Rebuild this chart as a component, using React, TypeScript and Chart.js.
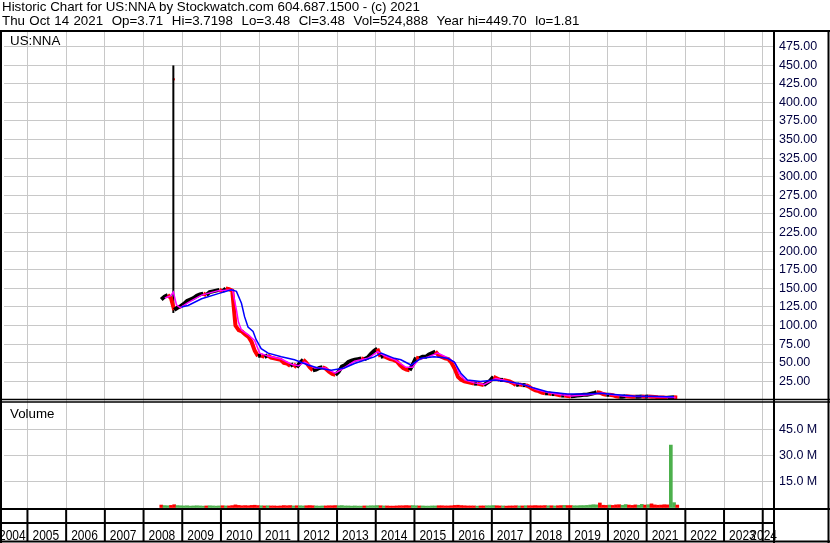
import React, { useEffect, useRef } from 'react';
import { Chart, registerables } from 'chart.js';

Chart.register(...registerables);

// ---------- text ----------
const TITLE_LINE = 'Historic Chart for US:NNA by Stockwatch.com 604.687.1500 - (c) 2021';
const QUOTE_LINE = 'Thu Oct 14 2021  Op=3.71  Hi=3.7198  Lo=3.48  Cl=3.48  Vol=524,888  Year hi=449.70  lo=1.81';
const SYMBOL_LABEL = 'US:NNA';
const VOLUME_LABEL = 'Volume';

// ---------- axes ----------
const yearLabels = ['2004', '2005', '2006', '2007', '2008', '2009', '2010', '2011', '2012', '2013', '2014', '2015', '2016', '2017', '2018', '2019', '2020', '2021', '2022', '2023', '2024'];
const priceTicks = [25, 50, 75, 100, 125, 150, 175, 200, 225, 250, 275, 300, 325, 350, 375, 400, 425, 450, 475];
const volumeTicks = [15000000, 30000000, 45000000];
const X_MIN = 2004.394;
const X_MAX = 2024.291;
const PRICE_MIN = 0;
const PRICE_MAX = 494.6;
const VOL_MIN = -870000;
const VOL_MAX = 62000000;

// ---------- data (monthly, first month = June 2008) ----------
const firstYear = 2008;
const firstMonth = 6;
const monthlyClose = [
  135, 139, 141, 137, 121, 124, 126,
  129, 133, 135, 137, 140, 142, 143, 141, 145, 146, 147, 148,
  146, 150, 149, 147, 100, 94, 92, 88, 85, 78, 66, 59,
  60, 58, 60, 57, 56, 55, 54, 50, 49, 46, 48, 44,
  50, 54, 50, 44, 40, 41, 43, 44, 42, 38, 35, 34,
  38, 45, 47, 51, 53, 54, 55, 56, 55, 57, 62, 66,
  69, 58, 59, 57, 55, 54, 52, 47, 43, 41, 40, 48,
  57, 56, 58, 58, 61, 63, 65, 60, 58, 56, 55, 50,
  42, 31, 27, 25, 24, 23, 22, 22, 21, 20, 23, 26,
  31, 29, 27, 27, 26, 25, 23, 20, 21, 20, 20, 18,
  15, 13, 12, 10, 9, 9, 8, 8, 7, 6, 6, 5.5,
  5, 5.5, 6, 6.5, 7, 7, 8, 9, 10.5, 9.8, 8, 7,
  7, 6.5, 5, 4.5, 4.5, 5, 4.8, 4.5, 4.4, 4.5, 4.6, 4.5,
  4.6, 4.5, 4.2, 3.8, 3.5, 3.2, 3.0, 3.3, 3.6, 3.5,
];
const monthlyVolumeM = [
  1.4, 1.1, 1.0, 1.2, 1.6, 1.1, 1.0,
  0.9, 1.0, 0.8, 0.9, 1.0, 0.9, 0.8, 0.9, 1.0, 0.9, 0.8, 0.9,
  1.0, 0.9, 0.9, 1.1, 1.5, 1.2, 1.0, 1.1, 1.0, 1.2, 1.3, 1.1,
  1.0, 0.9, 1.0, 0.9, 0.9, 0.8, 0.9, 1.1, 1.0, 1.1, 0.9, 1.0,
  1.0, 0.9, 1.0, 1.1, 1.0, 0.9, 0.8, 0.9, 0.9, 1.0, 1.0, 1.1,
  1.0, 1.1, 0.9, 0.9, 0.8, 0.9, 0.8, 0.8, 0.9, 0.9, 1.0, 1.0,
  1.1, 1.0, 0.9, 0.9, 0.8, 0.8, 0.9, 1.0, 1.0, 1.1, 1.0, 1.1,
  1.0, 0.9, 0.9, 0.8, 0.8, 0.9, 0.9, 1.0, 1.0, 0.9, 0.9, 1.0,
  1.2, 1.3, 1.1, 1.0, 0.9, 0.9, 0.9, 0.8, 0.9, 0.9, 1.0, 1.0,
  1.1, 1.0, 0.9, 0.9, 0.8, 0.9, 0.9, 1.0, 0.9, 0.9, 1.0, 1.0,
  1.0, 1.1, 1.0, 1.0, 1.1, 1.0, 1.0, 0.9, 1.0, 1.1, 1.2, 1.1,
  1.1, 1.0, 1.0, 1.1, 1.1, 1.2, 1.4, 1.6, 1.5, 2.6, 1.3, 1.2,
  1.4, 1.2, 1.5, 1.6, 1.3, 1.7, 1.4, 1.2, 1.5, 1.3, 1.8, 1.4,
  1.6, 2.1, 1.5, 1.3, 1.4, 1.6, 1.5, 36.0, 2.8, 1.4,
];

// the Oct 2008 spike bar
const spikeYear = 2008.77;
const spikeLow = 117;
const spikeHigh = 449.7;
const spikeCloseTick = 431;

// short moving average (magenta)
const pinkYears = [2008.55, 2008.70, 2008.77, 2008.85, 2008.95, 2009.15, 2009.50, 2009.93, 2010.30, 2010.40, 2010.45, 2010.53, 2010.70, 2010.87, 2011.00, 2011.22, 2011.56, 2011.82, 2012.00, 2012.16, 2012.42, 2012.70, 2012.95, 2013.15, 2013.45, 2013.80, 2014.05, 2014.20, 2014.50, 2014.78, 2014.95, 2015.10, 2015.35, 2015.60, 2015.85, 2016.05, 2016.15, 2016.30, 2016.55, 2016.80, 2017.00, 2017.10, 2017.30, 2017.60, 2017.90, 2018.15, 2018.45, 2018.80, 2019.05, 2019.50, 2019.85, 2020.10, 2020.45, 2020.80, 2021.20, 2021.55, 2021.75];
const pinkValues = [137, 140, 145, 128, 124, 131, 141, 147, 148, 121, 105, 94, 88, 80, 63, 59, 55, 48, 46, 51, 43, 43, 36, 42, 52, 56, 65, 60, 54, 44, 44, 54, 58, 63, 57, 50, 36, 27, 23, 21, 26, 29, 27, 22, 20, 14, 10, 7, 5.5, 7, 9.5, 7, 5, 4.6, 4.5, 3.3, 3.5];

// long moving average (blue)
const blueYears = [2008.98, 2009.15, 2009.50, 2009.93, 2010.27, 2010.40, 2010.53, 2010.61, 2010.70, 2010.83, 2010.91, 2011.04, 2011.22, 2011.56, 2011.90, 2012.25, 2012.51, 2012.85, 2013.19, 2013.45, 2013.96, 2014.14, 2014.48, 2014.65, 2014.91, 2015.17, 2015.51, 2015.86, 2016.03, 2016.20, 2016.37, 2016.71, 2017.06, 2017.40, 2017.74, 2018.09, 2018.43, 2018.95, 2019.46, 2019.81, 2020.24, 2020.66, 2021.10, 2021.53, 2021.70];
const blueValues = [125, 127, 136, 143, 148, 146, 130, 112, 98, 92, 81, 69, 63, 58, 54, 47, 43, 40, 43, 49, 58, 63, 56, 54, 47, 56, 58, 56, 51, 36, 27, 25, 27, 25, 22, 16, 11, 8, 8, 9, 7, 5.4, 5, 4.5, 4.5];

// ---------- styles ----------
const FONT = '"Liberation Sans", Arial, sans-serif';
const GRID = '#c8c8c8';
const AXIS_TEXT = '#000040';
const UP_PRICE = '#000000';
const DOWN_PRICE = '#ff0000';
const UP_VOL = '#4cb04c';
const DOWN_VOL = '#ff0000';

const monthX = (i: number) => firstYear + (firstMonth - 1 + i + 0.5) / 12;

const framePlugin = {
  id: 'stockFrame',
  afterDraw(chart: any) {
    const { ctx, chartArea, scales } = chart;
    const xs = scales.x;
    const yP = scales.y;
    const W = chart.width;
    const H = chart.height;
    const R = chartArea.right;
    const T = chartArea.top;
    const B = chartArea.bottom;
    ctx.save();
    ctx.strokeStyle = '#000';
    const hline = (y: number, x0: number, x1: number, w: number) => {
      ctx.lineWidth = w;
      ctx.beginPath();
      ctx.moveTo(x0, y);
      ctx.lineTo(x1, y);
      ctx.stroke();
    };
    const vline = (x: number, y0: number, y1: number, w: number) => {
      ctx.lineWidth = w;
      ctx.beginPath();
      ctx.moveTo(x, y0);
      ctx.lineTo(x, y1);
      ctx.stroke();
    };
    hline(T - 1, 0, W, 2);
    hline(yP.bottom - 0.5, 0, W, 1.5);
    hline(yP.bottom + 2, 0, W, 1.5);
    hline(B, 0, W, 2);
    hline(B + 14, 0, R + 1, 2);
    hline(H - 1.5, 0, W, 2);
    vline(1, T - 2, H, 2);
    vline(W - 1.5, T - 2, H, 2);
    vline(R, T - 2, H, 2);
    for (let i = 1; i < yearLabels.length; i++) {
      const px = xs.getPixelForValue(Number(yearLabels[i]));
      vline(px, B, H - 1.5, 2);
    }
    ctx.fillStyle = '#000';
    ctx.font = '15px ' + FONT;
    ctx.textBaseline = 'alphabetic';
    ctx.textAlign = 'left';
    const sx = 0.8;
    for (const lab of yearLabels) {
      const w = ctx.measureText(lab).width * sx;
      const c = xs.getPixelForValue(Number(lab) + 0.5) - 1;
      const left = Math.max(-1, Math.min(c - w / 2, R + 3 - w));
      ctx.save();
      ctx.translate(left, H - 3);
      ctx.scale(sx, 1);
      ctx.fillText(lab, 0, 0);
      ctx.restore();
    }
    ctx.restore();
  },
};

export default function App() {
  const canvasRef = useRef<HTMLCanvasElement | null>(null);

  useEffect(() => {
    document.body.style.margin = '0';
    const canvas = canvasRef.current;
    if (!canvas) return;

    const priceData = monthlyClose.map((c, i) => ({ x: monthX(i), y: c }));
    const volData = monthlyVolumeM.map((v, i) => ({ x: monthX(i), y: v * 1000000 }));
    const volColors = monthlyClose.map((c, i) => (i > 0 && c >= monthlyClose[i - 1] ? UP_VOL : DOWN_VOL));

    const chart = new Chart(canvas, {
      type: 'line',
      data: {
        datasets: [
          {
            type: 'line',
            data: blueYears.map((x, i) => ({ x, y: blueValues[i] })),
            yAxisID: 'y',
            borderColor: '#0000ff',
            borderWidth: 1.5,
            pointRadius: 0,
            tension: 0,
          },
          {
            type: 'line',
            data: pinkYears.map((x, i) => ({ x, y: pinkValues[i] })),
            yAxisID: 'y',
            borderColor: '#ff00ff',
            borderWidth: 1.5,
            pointRadius: 0,
            tension: 0,
          },
          {
            type: 'line',
            data: priceData,
            yAxisID: 'y',
            borderColor: DOWN_PRICE,
            borderWidth: 4,
            pointRadius: 0,
            tension: 0,
            segment: {
              borderColor: (ctx: any) => (ctx.p1.parsed.y >= ctx.p0.parsed.y ? UP_PRICE : DOWN_PRICE),
            },
          },
          {
            type: 'line',
            data: [{ x: spikeYear, y: spikeLow }, { x: spikeYear, y: spikeHigh }],
            yAxisID: 'y',
            borderColor: '#000',
            borderWidth: 2,
            pointRadius: 0,
          },
          {
            type: 'line',
            data: [{ x: spikeYear + 0.012, y: spikeCloseTick }],
            yAxisID: 'y',
            showLine: false,
            pointStyle: 'rect',
            pointRadius: 1.5,
            pointBackgroundColor: '#ff0000',
            pointBorderWidth: 0,
          },
          {
            type: 'bar',
            data: volData,
            yAxisID: 'yv',
            backgroundColor: volColors,
            barThickness: 3,
            borderWidth: 0,
          },
        ] as any,
      },
      options: {
        responsive: false,
        animation: false,
        devicePixelRatio: 1,
        layout: { padding: { top: 32, left: 2, right: 0, bottom: 0 } },
        plugins: { legend: { display: false }, tooltip: { enabled: false }, title: { display: false } },
        scales: {
          x: {
            type: 'linear',
            min: X_MIN,
            max: X_MAX,
            offset: false,
            afterBuildTicks: (s: any) => {
              s.ticks = yearLabels.slice(1).map((y) => ({ value: Number(y) }));
            },
            afterFit: (s: any) => {
              s.height = 34;
            },
            ticks: { display: false },
            grid: { color: GRID, lineWidth: 1, drawTicks: false, tickLength: 0, offset: false },
            border: { display: false },
          },
          y: {
            type: 'linear',
            position: 'right',
            stack: 'panes',
            stackWeight: 368,
            min: PRICE_MIN,
            max: PRICE_MAX,
            afterBuildTicks: (s: any) => {
              s.ticks = priceTicks.map((v) => ({ value: v }));
            },
            afterFit: (s: any) => {
              s.width = 56;
            },
            ticks: {
              autoSkip: false,
              padding: 5,
              color: AXIS_TEXT,
              font: { family: FONT, size: 12.5 },
              callback: (v: any) => Number(v).toFixed(2),
            },
            grid: { color: GRID, lineWidth: 1, drawTicks: false, tickLength: 0 },
            border: { display: false },
          },
          yv: {
            type: 'linear',
            position: 'right',
            stack: 'panes',
            stackWeight: 109,
            min: VOL_MIN,
            max: VOL_MAX,
            afterBuildTicks: (s: any) => {
              s.ticks = volumeTicks.map((v) => ({ value: v }));
            },
            afterFit: (s: any) => {
              s.width = 56;
            },
            ticks: {
              autoSkip: false,
              padding: 5,
              color: AXIS_TEXT,
              font: { family: FONT, size: 12.5 },
              callback: (v: any) => (Number(v) / 1000000).toFixed(1) + ' M',
            },
            grid: { color: GRID, lineWidth: 1, drawTicks: false, tickLength: 0 },
            border: { display: false },
          },
        },
      } as any,
      plugins: [framePlugin],
    });

    return () => chart.destroy();
  }, []);

  const textStyle: React.CSSProperties = {
    position: 'absolute',
    fontFamily: FONT,
    fontSize: 13.33,
    lineHeight: '14px',
    whiteSpace: 'pre',
    color: '#000',
  };

  return (
    <div style={{ position: 'relative', width: 830, height: 543, background: '#fff', overflow: 'hidden' }}>
      <canvas ref={canvasRef} width={830} height={543} style={{ position: 'absolute', left: 0, top: 0, display: 'block' }} />
      <div style={{ ...textStyle, left: 2, top: 0 }}>{TITLE_LINE}</div>
      <div style={{ ...textStyle, left: 2, top: 14, wordSpacing: '0.6px' }}>{QUOTE_LINE}</div>
      <div style={{ ...textStyle, left: 10, top: 34 }}>{SYMBOL_LABEL}</div>
      <div style={{ ...textStyle, left: 10, top: 407 }}>{VOLUME_LABEL}</div>
    </div>
  );
}
